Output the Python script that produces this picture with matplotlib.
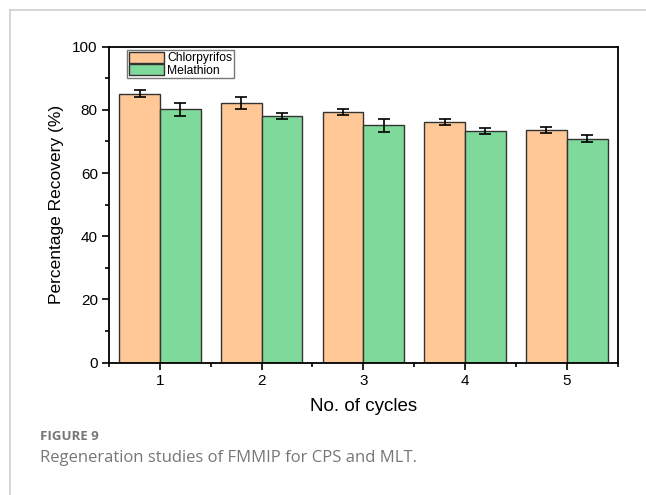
import matplotlib
matplotlib.use('Agg')
import matplotlib.pyplot as plt
from matplotlib.lines import Line2D
from matplotlib.ticker import MultipleLocator
import numpy as np

cycles = [1, 2, 3, 4, 5]
chlorpyrifos = [85.1, 82.2, 79.4, 76.2, 73.6]
chlorpyrifos_err = [1.05, 2.0, 0.9, 0.95, 1.0]
melathion = [80.2, 78.1, 75.1, 73.4, 70.9]
melathion_err = [2.05, 1.05, 2.0, 1.0, 1.0]

plt.rcParams['font.family'] = ['Liberation Sans', 'DejaVu Sans']

fig = plt.figure(figsize=(6.46, 4.95), dpi=100)
ax = fig.add_axes([0.1687, 0.2673, 0.7875, 0.6384])

x = np.array(cycles)
w = 0.4
ax.bar(x - w/2, chlorpyrifos, w, color='#ffc896', edgecolor='#333333', linewidth=1.0,
       yerr=chlorpyrifos_err, capsize=4, error_kw=dict(elinewidth=1.2, capthick=1.2, ecolor='black'),
       label='Chlorpyrifos')
ax.bar(x + w/2, melathion, w, color='#7fd99a', edgecolor='#333333', linewidth=1.0,
       yerr=melathion_err, capsize=4, error_kw=dict(elinewidth=1.2, capthick=1.2, ecolor='black'),
       label='Melathion')

ax.set_xlim(0.5, 5.5)
ax.set_ylim(0, 100)
ax.set_xticks(cycles)
ax.xaxis.set_minor_locator(MultipleLocator(0.5))
ax.yaxis.set_major_locator(MultipleLocator(20))
ax.yaxis.set_minor_locator(MultipleLocator(10))
ax.tick_params(which='major', direction='out', length=5, width=1.2, labelsize=11, pad=3)
ax.tick_params(which='minor', direction='out', length=3, width=1.2)
for s in ax.spines.values():
    s.set_linewidth(1.3)
    s.set_color('black')

ax.set_ylabel('Percentage Recovery (%)', fontsize=12.5, labelpad=6)
ax.set_xlabel('No. of cycles', fontsize=13.5, labelpad=7)

leg = ax.legend(loc='upper left', bbox_to_anchor=(0.036, 0.988), fontsize=8.7,
                frameon=True, fancybox=False, edgecolor='#555555', borderpad=0.12,
                handlelength=2.9, handleheight=1.0, handletextpad=0.3, labelspacing=0.0,
                borderaxespad=0)
leg.get_frame().set_linewidth(1.0)

# page frame lines
fig.add_artist(Line2D([9.5/646, 9.5/646], [0, 1 - 9.5/495], color='#d0d0d0', lw=1.2))
fig.add_artist(Line2D([9.5/646, 1], [1 - 9.5/495, 1 - 9.5/495], color='#d0d0d0', lw=1.2))

fig.text(40/646, 1 - 437/495, 'FIGURE 9', fontsize=9.5, fontweight='bold', color='#777777',
         family=['Open Sans', 'DejaVu Sans'], va='center')
fig.text(40/646, 1 - 458/495, 'Regeneration studies of FMMIP for CPS and MLT.', fontsize=12,
         color='#777777', family=['Open Sans', 'DejaVu Sans'], va='center')

fig.savefig('out.png', dpi=100)
